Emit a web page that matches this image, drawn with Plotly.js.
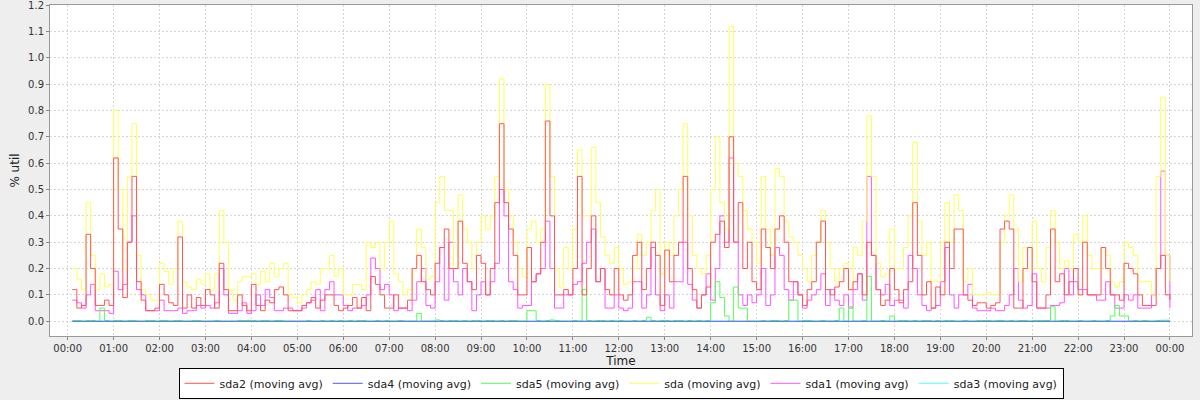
<!DOCTYPE html>
<html>
<head>
<meta charset="utf-8">
<script src="https://cdn.plot.ly/plotly-3.0.1.min.js"></script>
<style>
  html, body { margin: 0; padding: 0; background: #eeeeee; }
  #chart { width: 1200px; height: 400px; }
</style>
</head>
<body>
<div id="chart"></div>
<script>
// Sampling: one moving-average reading every 6 minutes, first one at 00:06, last at 24:00
const startTime = '2024-01-01T00:06:00';
const stepMinutes = 6;

const seriesNames = ['sda2 (moving avg)', 'sda4 (moving avg)', 'sda5 (moving avg)',
                     'sda (moving avg)', 'sda1 (moving avg)', 'sda3 (moving avg)'];

// sda (yellow)
const sda = [
  0.20,0.16,0.12,0.45,0.25,0.12,0.18,0.13,0.14,0.80,
  0.50,0.20,0.55,0.75,0.25,0.12,0.10,0.08,0.08,0.22,
  0.19,0.14,0.20,0.38,0.15,0.13,0.12,0.16,0.14,0.18,
  0.12,0.18,0.42,0.30,0.12,0.08,0.15,0.17,0.17,0.18,
  0.14,0.19,0.15,0.22,0.17,0.20,0.22,0.10,0.09,0.07,
  0.10,0.12,0.15,0.14,0.20,0.20,0.25,0.17,0.20,0.10,
  0.10,0.14,0.14,0.12,0.30,0.28,0.30,0.20,0.30,0.38,
  0.18,0.15,0.10,0.12,0.20,0.35,0.28,0.16,0.17,0.45,
  0.55,0.42,0.42,0.20,0.48,0.35,0.30,0.20,0.30,0.40,
  0.35,0.40,0.55,0.92,0.50,0.40,0.30,0.20,0.17,0.35,
  0.38,0.30,0.35,0.90,0.55,0.20,0.13,0.28,0.20,0.35,
  0.65,0.40,0.40,0.66,0.45,0.32,0.25,0.22,0.28,0.20,
  0.14,0.15,0.20,0.33,0.25,0.30,0.42,0.50,0.18,0.30,
  0.25,0.40,0.50,0.75,0.40,0.25,0.20,0.18,0.25,0.50,
  0.70,0.45,0.35,1.12,0.60,0.55,0.42,0.35,0.30,0.22,
  0.55,0.35,0.25,0.58,0.55,0.38,0.32,0.30,0.25,0.20,
  0.15,0.25,0.30,0.42,0.30,0.20,0.15,0.20,0.22,0.12,
  0.28,0.25,0.38,0.78,0.55,0.22,0.17,0.18,0.35,0.20,
  0.20,0.28,0.40,0.68,0.38,0.25,0.30,0.15,0.15,0.30,
  0.45,0.30,0.48,0.42,0.15,0.20,0.10,0.10,0.10,0.11,
  0.10,0.10,0.30,0.40,0.48,0.35,0.15,0.28,0.20,0.38,
  0.20,0.15,0.28,0.42,0.30,0.20,0.23,0.20,0.33,0.30,
  0.40,0.25,0.20,0.20,0.28,0.25,0.15,0.13,0.15,0.30,
  0.28,0.25,0.15,0.15,0.15,0.10,0.55,0.85,0.25,0.15
];

// sda2 (red)
const sda2 = [
  0.12,0.05,0.06,0.33,0.20,0.06,0.06,0.08,0.06,0.62,
  0.35,0.09,0.30,0.55,0.15,0.08,0.04,0.04,0.05,0.14,
  0.10,0.07,0.06,0.32,0.05,0.10,0.05,0.09,0.06,0.12,
  0.10,0.05,0.22,0.12,0.04,0.04,0.10,0.06,0.04,0.14,
  0.06,0.04,0.08,0.07,0.12,0.13,0.10,0.04,0.04,0.04,
  0.06,0.07,0.09,0.05,0.08,0.10,0.10,0.06,0.04,0.05,
  0.06,0.09,0.05,0.09,0.04,0.17,0.14,0.10,0.05,0.05,
  0.10,0.05,0.05,0.08,0.20,0.25,0.15,0.12,0.10,0.22,
  0.28,0.35,0.20,0.20,0.38,0.22,0.15,0.12,0.25,0.22,
  0.10,0.20,0.45,0.75,0.45,0.35,0.25,0.10,0.10,0.28,
  0.15,0.18,0.30,0.76,0.40,0.10,0.10,0.12,0.10,0.20,
  0.55,0.10,0.20,0.40,0.15,0.20,0.12,0.10,0.20,0.10,
  0.08,0.10,0.25,0.30,0.12,0.20,0.30,0.25,0.06,0.27,
  0.15,0.25,0.30,0.55,0.20,0.12,0.05,0.10,0.13,0.30,
  0.33,0.38,0.28,0.70,0.30,0.45,0.20,0.30,0.15,0.12,
  0.35,0.28,0.20,0.35,0.40,0.30,0.15,0.15,0.10,0.06,
  0.12,0.15,0.30,0.38,0.12,0.10,0.13,0.15,0.20,0.12,
  0.15,0.18,0.10,0.30,0.25,0.12,0.06,0.08,0.20,0.12,
  0.07,0.12,0.15,0.45,0.25,0.10,0.15,0.05,0.13,0.10,
  0.30,0.20,0.35,0.35,0.10,0.08,0.06,0.07,0.07,0.05,
  0.06,0.07,0.35,0.38,0.35,0.05,0.05,0.20,0.28,0.15,
  0.05,0.05,0.10,0.35,0.15,0.18,0.10,0.15,0.20,0.10,
  0.30,0.10,0.10,0.10,0.28,0.20,0.10,0.10,0.08,0.22,
  0.20,0.18,0.10,0.06,0.06,0.06,0.20,0.25,0.10,0.08
];

// sda1 (magenta)
const sda1 = [
  0.08,0.07,0.05,0.10,0.14,0.04,0.04,0.04,0.03,0.19,
  0.12,0.14,0.30,0.40,0.12,0.10,0.04,0.04,0.04,0.08,
  0.04,0.04,0.04,0.05,0.03,0.04,0.04,0.06,0.05,0.06,
  0.05,0.07,0.20,0.10,0.03,0.03,0.04,0.07,0.03,0.04,
  0.10,0.06,0.12,0.09,0.04,0.04,0.05,0.05,0.04,0.04,
  0.05,0.07,0.08,0.12,0.04,0.12,0.15,0.10,0.10,0.06,
  0.04,0.05,0.05,0.06,0.10,0.24,0.20,0.12,0.14,0.10,
  0.04,0.05,0.05,0.04,0.08,0.15,0.20,0.06,0.05,0.15,
  0.28,0.08,0.30,0.15,0.10,0.20,0.15,0.04,0.10,0.15,
  0.10,0.15,0.22,0.50,0.40,0.15,0.12,0.05,0.06,0.06,
  0.15,0.18,0.20,0.38,0.20,0.05,0.05,0.10,0.10,0.14,
  0.15,0.22,0.30,0.35,0.15,0.20,0.05,0.05,0.10,0.05,
  0.04,0.05,0.15,0.15,0.05,0.10,0.28,0.10,0.04,0.10,
  0.05,0.15,0.15,0.30,0.14,0.08,0.05,0.10,0.18,0.08,
  0.20,0.40,0.30,0.62,0.30,0.10,0.06,0.10,0.07,0.10,
  0.20,0.06,0.10,0.28,0.25,0.12,0.08,0.15,0.10,0.05,
  0.08,0.10,0.12,0.18,0.06,0.12,0.08,0.06,0.10,0.05,
  0.12,0.18,0.08,0.55,0.25,0.12,0.10,0.14,0.06,0.08,
  0.08,0.05,0.25,0.20,0.10,0.06,0.04,0.05,0.06,0.15,
  0.28,0.10,0.05,0.10,0.10,0.14,0.05,0.04,0.04,0.04,
  0.05,0.04,0.04,0.06,0.10,0.20,0.08,0.05,0.06,0.18,
  0.05,0.05,0.05,0.06,0.06,0.07,0.20,0.10,0.15,0.12,
  0.12,0.10,0.10,0.08,0.08,0.15,0.10,0.05,0.05,0.10,
  0.08,0.10,0.05,0.05,0.05,0.10,0.20,0.57,0.25,0.05
];

// sda5 (green)
const sda5 = [
  0.003,0.003,0.000,0.003,0.003,0.000,0.050,0.003,0.000,0.003,
  0.003,0.000,0.003,0.003,0.000,0.000,0.003,0.003,0.000,0.003,
  0.003,0.000,0.003,0.003,0.000,0.000,0.003,0.003,0.000,0.000,
  0.000,0.003,0.000,0.000,0.000,0.000,0.003,0.003,0.003,0.003,
  0.000,0.003,0.003,0.000,0.003,0.003,0.000,0.000,0.000,0.000,
  0.000,0.003,0.000,0.000,0.003,0.000,0.003,0.000,0.003,0.000,
  0.003,0.000,0.003,0.003,0.000,0.000,0.003,0.000,0.003,0.000,
  0.000,0.003,0.000,0.000,0.000,0.030,0.000,0.000,0.000,0.005,
  0.003,0.000,0.003,0.003,0.000,0.003,0.000,0.003,0.003,0.000,
  0.003,0.003,0.000,0.003,0.000,0.003,0.003,0.000,0.000,0.040,
  0.040,0.003,0.000,0.003,0.005,0.003,0.000,0.000,0.000,0.003,
  0.000,0.120,0.003,0.000,0.003,0.003,0.000,0.003,0.000,0.003,
  0.000,0.000,0.003,0.000,0.003,0.015,0.003,0.000,0.003,0.003,
  0.000,0.003,0.003,0.000,0.003,0.000,0.003,0.000,0.003,0.070,
  0.150,0.090,0.020,0.000,0.130,0.050,0.050,0.000,0.000,0.000,
  0.003,0.000,0.003,0.003,0.000,0.003,0.080,0.080,0.000,0.003,
  0.003,0.000,0.000,0.003,0.000,0.000,0.003,0.050,0.000,0.055,
  0.000,0.000,0.003,0.170,0.000,0.000,0.003,0.000,0.020,0.000,
  0.003,0.003,0.000,0.003,0.000,0.003,0.003,0.000,0.003,0.000,
  0.003,0.003,0.000,0.000,0.003,0.000,0.000,0.003,0.003,0.003,
  0.000,0.003,0.003,0.000,0.003,0.000,0.003,0.003,0.000,0.003,
  0.003,0.003,0.003,0.055,0.000,0.003,0.003,0.000,0.000,0.003,
  0.000,0.000,0.003,0.000,0.000,0.003,0.020,0.060,0.020,0.020,
  0.000,0.003,0.000,0.003,0.000,0.000,0.003,0.004,0.004,0.003
];

// sda4 (blue) and sda3 (cyan): flat at zero all day
const sda4 = [
  0,0,0,0,0,0,0,0,0,0, 0,0,0,0,0,0,0,0,0,0, 0,0,0,0,0,0,0,0,0,0,
  0,0,0,0,0,0,0,0,0,0, 0,0,0,0,0,0,0,0,0,0, 0,0,0,0,0,0,0,0,0,0,
  0,0,0,0,0,0,0,0,0,0, 0,0,0,0,0,0,0,0,0,0, 0,0,0,0,0,0,0,0,0,0,
  0,0,0,0,0,0,0,0,0,0, 0,0,0,0,0,0,0,0,0,0, 0,0,0,0,0,0,0,0,0,0,
  0,0,0,0,0,0,0,0,0,0, 0,0,0,0,0,0,0,0,0,0, 0,0,0,0,0,0,0,0,0,0,
  0,0,0,0,0,0,0,0,0,0, 0,0,0,0,0,0,0,0,0,0, 0,0,0,0,0,0,0,0,0,0,
  0,0,0,0,0,0,0,0,0,0, 0,0,0,0,0,0,0,0,0,0, 0,0,0,0,0,0,0,0,0,0,
  0,0,0,0,0,0,0,0,0,0, 0,0,0,0,0,0,0,0,0,0, 0,0,0,0,0,0,0,0,0,0
];
const sda3 = [
  0,0,0,0,0,0,0,0,0,0, 0,0,0,0,0,0,0,0,0,0, 0,0,0,0,0,0,0,0,0,0,
  0,0,0,0,0,0,0,0,0,0, 0,0,0,0,0,0,0,0,0,0, 0,0,0,0,0,0,0,0,0,0,
  0,0,0,0,0,0,0,0,0,0, 0,0,0,0,0,0,0,0,0,0, 0,0,0,0,0,0,0,0,0,0,
  0,0,0,0,0,0,0,0,0,0, 0,0,0,0,0,0,0,0,0,0, 0,0,0,0,0,0,0,0,0,0,
  0,0,0,0,0,0,0,0,0,0, 0,0,0,0,0,0,0,0,0,0, 0,0,0,0,0,0,0,0,0,0,
  0,0,0,0,0,0,0,0,0,0, 0,0,0,0,0,0,0,0,0,0, 0,0,0,0,0,0,0,0,0,0,
  0,0,0,0,0,0,0,0,0,0, 0,0,0,0,0,0,0,0,0,0, 0,0,0,0,0,0,0,0,0,0,
  0,0,0,0,0,0,0,0,0,0, 0,0,0,0,0,0,0,0,0,0, 0,0,0,0,0,0,0,0,0,0
];

const seriesColors = ['#ff5555', '#5555ff', '#55ff55', '#ffff55', '#ff55ff', '#55ffff'];

// timestamps for the readings
function pad(n) { return (n < 10 ? '0' : '') + n; }
function timeAt(i) {
  const d = new Date(Date.parse(startTime + 'Z') + i * stepMinutes * 60000);
  return d.getUTCFullYear() + '-' + pad(d.getUTCMonth() + 1) + '-' + pad(d.getUTCDate()) +
         ' ' + pad(d.getUTCHours()) + ':' + pad(d.getUTCMinutes());
}
const times = sda.map((_, i) => timeAt(i));

const values = [sda2, sda4, sda5, sda, sda1, sda3];

// draw order: last legend entry first, so sda2 ends on top (as in the original)
const traces = [];
for (let s = seriesNames.length - 1; s >= 0; s--) {
  traces.push({
    type: 'scatter',
    mode: 'lines',
    name: seriesNames[s],
    x: times,
    y: values[s],
    line: { color: seriesColors[s], width: 1, shape: 'hv' },
    hoverinfo: 'x+y+name'
  });
}

const font = 'DejaVu Sans, Verdana, sans-serif';

const layout = {
  width: 1200,
  height: 400,
  margin: { l: 50, r: 8, t: 5, b: 64, pad: 0, autoexpand: false },
  paper_bgcolor: '#eeeeee',
  plot_bgcolor: '#ffffff',
  font: { family: font, size: 10, color: '#333333' },
  showlegend: true,
  legend: {
    orientation: 'h',
    traceorder: 'reversed',
    xref: 'paper',
    x: 0.5, xanchor: 'center',
    yref: 'container',
    y: 0.003, yanchor: 'bottom',
    bgcolor: '#ffffff',
    bordercolor: '#000000',
    borderwidth: 1,
    font: { family: font, size: 11, color: '#222222' },
    itemwidth: 30,
    tracegroupgap: 0
  },
  xaxis: {
    type: 'date',
    range: ['2023-12-31 23:36:54', '2024-01-02 00:28:48'],
    tick0: '2024-01-01 00:00',
    dtick: 3600000,
    tickformat: '%H:%M',
    ticks: 'outside',
    ticklen: 3,
    tickcolor: '#888888',
    tickfont: { family: font, size: 10, color: '#333333' },
    ticklabeloverflow: 'allow',
    showgrid: true,
    gridcolor: '#d6d6d6',
    griddash: '2px,2px',
    gridwidth: 1,
    showline: true,
    linecolor: '#999999',
    linewidth: 1,
    mirror: true,
    zeroline: false,
    automargin: false,
    title: { text: 'Time', font: { family: font, size: 12, color: '#222222' }, standoff: 2 }
  },
  yaxis: {
    range: [-0.056, 1.2005],
    tick0: 0,
    dtick: 0.1,
    tickformat: '.1f',
    ticks: 'outside',
    ticklen: 3,
    tickcolor: '#888888',
    tickfont: { family: font, size: 10, color: '#333333' },
    ticklabeloverflow: 'allow',
    showgrid: true,
    gridcolor: '#d6d6d6',
    griddash: '2px,2px',
    gridwidth: 1,
    showline: true,
    linecolor: '#999999',
    linewidth: 1,
    mirror: true,
    zeroline: false,
    automargin: false,
    title: { text: '% util', font: { family: font, size: 12, color: '#222222' }, standoff: 5 }
  }
};

Plotly.newPlot('chart', traces, layout, { displayModeBar: false, staticPlot: false });
</script>
</body>
</html>
